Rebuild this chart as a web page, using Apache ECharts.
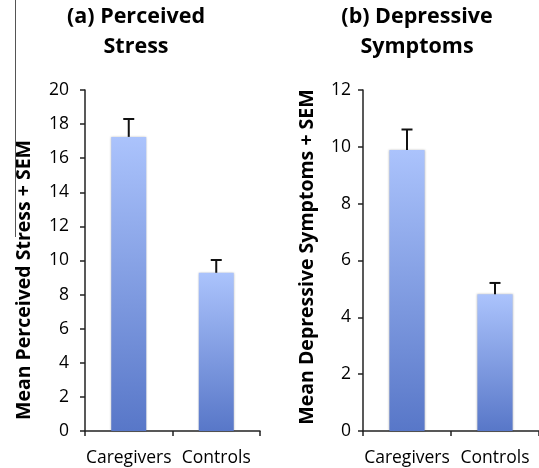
<!DOCTYPE html>
<html>
<head>
<meta charset="utf-8">
<script src="https://cdn.jsdelivr.net/npm/echarts@6/dist/echarts.min.js"></script>
<style>html,body{margin:0;padding:0;background:#fff}#c{width:539px;height:468px}</style>
</head>
<body>
<div id="c"></div>
<script>
const categories = ['Caregivers', 'Controls'];
const stressMeans = [17.25, 9.28];
const stressSEM = [1.05, 0.75];
const depressMeans = [9.89, 4.81];
const depressSEM = [0.72, 0.40];
const stressTicks = { min: 0, max: 20, interval: 2 };
const depressTicks = { min: 0, max: 12, interval: 2 };

const FONT = 'Open Sans';
const chart = echarts.init(document.getElementById('c'), null, { renderer: 'canvas' });

const barColor = new echarts.graphic.LinearGradient(0, 0, 0, 1, [
  { offset: 0, color: '#abc3fc' },
  { offset: 1, color: '#5877c8' }
]);

function errRender(means, sems) {
  return function (params, api) {
    const i = api.value(0);
    const base = api.coord([i, means[i]]);
    const top = api.coord([i, means[i] + sems[i]]);
    const hw = 5.5;
    const st = { stroke: '#111', lineWidth: 2 };
    return {
      type: 'group',
      children: [
        { type: 'line', shape: { x1: base[0], y1: base[1], x2: top[0], y2: top[1] }, style: st },
        { type: 'line', shape: { x1: top[0] - hw, y1: top[1], x2: top[0] + hw, y2: top[1] }, style: st }
      ]
    };
  };
}

function xAxis(gi) {
  return {
    type: 'category', gridIndex: gi, data: categories, boundaryGap: true,
    axisLine: { lineStyle: { color: '#222', width: 1.5 } },
    axisTick: { show: true, length: 5, lineStyle: { color: '#222', width: 1.5 } },
    axisLabel: { interval: 0, color: '#000', fontFamily: FONT, fontSize: 17.5, margin: 18 }
  };
}
function yAxis(gi, t, margin) {
  return {
    type: 'value', gridIndex: gi, min: t.min, max: t.max, interval: t.interval,
    axisLine: { show: true, lineStyle: { color: '#222', width: 1.5 } },
    axisTick: { show: true, length: 5, lineStyle: { color: '#222', width: 1.5 } },
    splitLine: { show: false },
    axisLabel: { color: '#000', fontFamily: FONT, fontSize: 17.5, margin: margin }
  };
}

chart.setOption({
  animation: false,
  grid: [
    { left: 85, top: 90, width: 175, height: 341 },
    { left: 363, top: 90, width: 176, height: 341 }
  ],
  xAxis: [xAxis(0), xAxis(1)],
  yAxis: [yAxis(0, stressTicks, 16), yAxis(1, depressTicks, 12)],
  graphic: [
    { type: 'line', shape: { x1: 15.5, y1: 0, x2: 15.5, y2: 237 }, style: { stroke: '#555', lineWidth: 1 } },
    { type: 'text', x: 136, y: 2, style: { text: '(a) Perceived\nStress', fontFamily: FONT, fontWeight: 'bold', fontSize: 21.5, lineHeight: 30, textAlign: 'center', fill: '#000' } },
    { type: 'text', x: 417, y: 2, style: { text: '(b) Depressive\nSymptoms', fontFamily: FONT, fontWeight: 'bold', fontSize: 21.5, lineHeight: 30, textAlign: 'center', fill: '#000' } },
    { type: 'text', x: 24, y: 280, rotation: Math.PI / 2, style: { text: 'Mean Perceived Stress + SEM', fontFamily: FONT, fontWeight: 'bold', fontSize: 19.5, textAlign: 'center', textVerticalAlign: 'middle', fill: '#000' } },
    { type: 'text', x: 307, y: 257, rotation: Math.PI / 2, style: { text: 'Mean Depressive Symptoms + SEM', fontFamily: FONT, fontWeight: 'bold', fontSize: 19.5, textAlign: 'center', textVerticalAlign: 'middle', fill: '#000' } }
  ],
  series: [
    { type: 'bar', xAxisIndex: 0, yAxisIndex: 0, data: stressMeans, barWidth: '40%', itemStyle: { color: barColor, shadowBlur: 2, shadowColor: 'rgba(0,0,0,0.25)' } },
    { type: 'custom', xAxisIndex: 0, yAxisIndex: 0, data: stressMeans.map((v, i) => [i, v]), renderItem: errRender(stressMeans, stressSEM), z: 3 },
    { type: 'bar', xAxisIndex: 1, yAxisIndex: 1, data: depressMeans, barWidth: '40%', itemStyle: { color: barColor, shadowBlur: 2, shadowColor: 'rgba(0,0,0,0.25)' } },
    { type: 'custom', xAxisIndex: 1, yAxisIndex: 1, data: depressMeans.map((v, i) => [i, v]), renderItem: errRender(depressMeans, depressSEM), z: 3 }
  ]
});
</script>
</body>
</html>
